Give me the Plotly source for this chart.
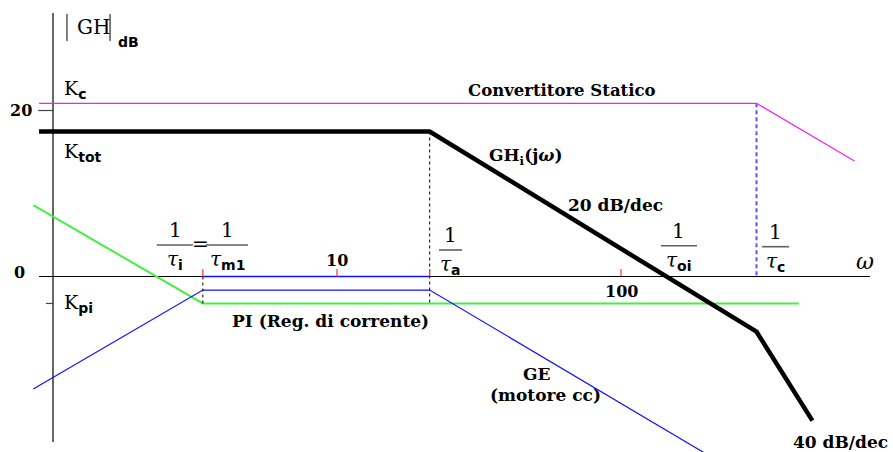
import numpy as np
import plotly.graph_objects as go

# Corner frequencies (rad/s)
w_i = 3.37    # 1/tau_i = 1/tau_m1
w_a = 21.2    # 1/tau_a
w_c = 300.0   # 1/tau_c

# Asymptotic magnitude curves (omega in rad/s, magnitude in dB)
conv_w = [0.893, w_c, 664.0]          # static converter
conv_db = [20.87, 20.87, 13.92]
tot_w = [0.893, w_a, w_c, 472.0]      # GH_i(jw) open loop
tot_db = [17.47, 17.47, -6.65, -17.37]
pi_w = [0.852, w_i, 423.0]            # PI current regulator
pi_db = [8.61, -3.25, -3.25]
ge_w = [0.852, w_i, w_a, 200.0]       # GE (dc motor)
ge_db = [-13.55, -1.63, -1.63, -21.4]
zero_w = [w_i, w_a]                   # 0 dB segment between the PI and armature corners
zero_db = [0.0, 0.0]

# Axis extents and markers
axis_w = [0.893, 753.0]
axis_db = [31.75, -19.94]
decade_w = [10, 100]
decade_labels = ["10", "100"]
k_pi_db = -3.25

W_MIN, W_MAX = 10 ** (-0.18662), 10 ** 2.95775
DB_MIN, DB_MAX = -21.145, 33.313

fig = go.Figure()


def seg(xs, ys, color, width=1, dash="solid"):
    fig.add_trace(go.Scatter(x=xs, y=ys, mode="lines", hoverinfo="skip",
                             line=dict(color=color, width=width, dash=dash)))


# axes
seg(axis_w, [0, 0], "black", 1.2)
seg([1, 1], axis_db, "black", 1.2)
seg([0.886, 1], [20, 20], "#444444", 1.2)
seg([0.945, 1], [k_pi_db, k_pi_db], "#444444", 1.2)

# curves
seg(pi_w, pi_db, "#44ee44", 2)
seg(ge_w, ge_db, "#1010ff", 1.2)
seg(zero_w, zero_db, "#1010ff", 1.6)
seg(conv_w, conv_db, "#f020f0", 1.2)

# corner-frequency guides
seg([w_i, w_i], [0, pi_db[1]], "black", 1, "3px,3px")
seg([w_a, w_a], [tot_db[1], pi_db[1]], "black", 1, "3px,3px")
seg([w_c, w_c], [conv_db[1], 0], "#5555ff", 2, "4px,3px")

# frequency ticks on the omega axis
for w in [w_i, w_a] + decade_w:
    seg([w, w], [0, 0.9], "#ff3333", 1.2)

seg(tot_w, tot_db, "black", 4.5)

# |GH| bars
seg([1.12, 1.12], [31.63, 28.37], "black", 1)
seg([1.588, 1.588], [31.63, 28.37], "black", 1)

# fraction bars: (left, right, level)
bars = [(2.32, 3.11, 3.80), (3.45, 4.86, 3.80), (22.87, 27.55, 3.19),
        (138.3, 185.2, 3.71), (313.7, 390.4, 3.59)]
for a, b, y in bars:
    seg([a, b], [y, y], "#606060", 1.6)

ann = []


def label(w, db, text, size=17, family="DejaVu Serif", weight="bold",
          xanchor="center", yanchor="middle", style="normal"):
    ann.append(dict(x=np.log10(w), y=db, xref="x", yref="y", text=text,
                    showarrow=False, xanchor=xanchor, yanchor=yanchor,
                    borderpad=0,
                    font=dict(family=family, size=size, color="black",
                              weight=weight, style=style)))


SERIF = "DejaVu Serif"
SUB = '<sub><span style="font-family:DejaVu Sans;font-weight:bold;font-size:14px">{}</span></sub>'
TAU = '<i>τ</i>'

label(62.0, 22.35, "Convertitore Statico", size=16.5)
label(34.0, 14.5, "GH" + '<sub>i</sub>' + "(j<i>ω</i>)", xanchor="left")
label(64.5, 8.61, "20 dB/dec", xanchor="left")
label(9.49, -5.36, "PI (Reg. di corrente)")
label(50.8, -11.75, "GE")
label(54.0, -14.28, "(motore cc)")
label(400, -19.93, "40 dB/dec", xanchor="left")
for w, t in zip(decade_w, decade_labels):
    label(w, 1.87 if w == 10 else -1.75, t, size=16)
label(0.85, 20, "20", size=16, xanchor="right")
label(0.803, 0.54, "0", size=16, xanchor="right")
label(723, 1.75, "ω", size=22, family=SERIF, weight="normal", style="italic")

label(1.205, 30.06, "GH", size=20, family=SERIF, weight="normal", xanchor="left")
label(1.68, 28.25, "dB", size=14, family="DejaVu Sans", weight="bold", xanchor="left")

label(1.084, 22.5, "K" + SUB.format("c"), size=19, family=SERIF, weight="normal", xanchor="left")
label(1.084, 15.0, "K" + SUB.format("tot"), size=19, family=SERIF, weight="normal", xanchor="left")
label(1.084, -3.2, "K" + SUB.format("pi"), size=19, family=SERIF, weight="normal", xanchor="left")

# corner-frequency fractions: numerator above the bar, tau below
centers = [2.69, 4.1, 25.1, 160, 350]
subs = ["i", "m1", "a", "oi", "c"]
for wc, (a, b, y), sub in zip(centers, bars, subs):
    label(wc, y + 0.2, "1", size=20, family=SERIF, weight="normal", yanchor="bottom")
    label(wc, y - 0.15, TAU + SUB.format(sub), size=20, family=SERIF, weight="normal", yanchor="top")
label(3.3, 3.92, "=", size=20, family=SERIF, weight="normal")

fig.update_layout(
    width=893, height=452, margin=dict(l=0, r=0, t=0, b=0),
    paper_bgcolor="white", plot_bgcolor="white", showlegend=False,
    xaxis=dict(type="log", range=[np.log10(W_MIN), np.log10(W_MAX)], visible=False),
    yaxis=dict(range=[DB_MIN, DB_MAX], visible=False),
    annotations=ann,
)

fig.write_html("out.html")
